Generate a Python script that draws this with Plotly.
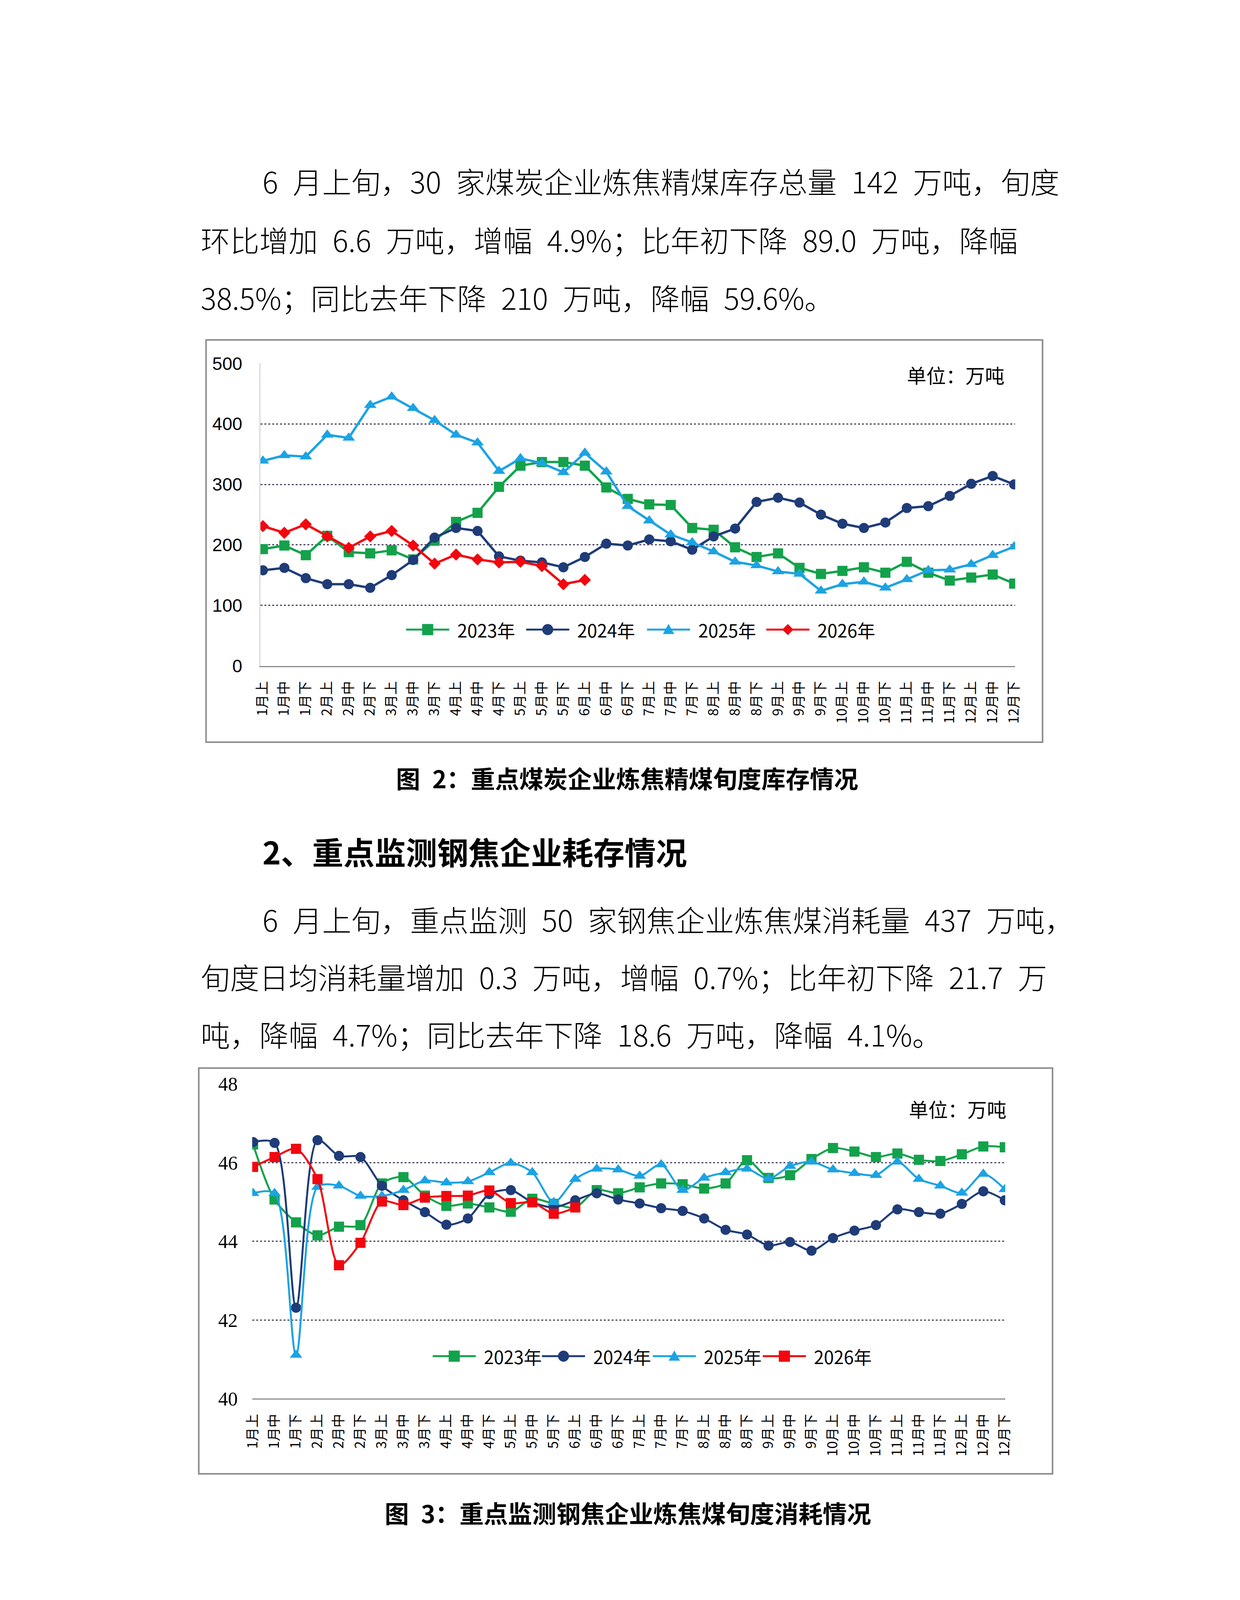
import plotly.graph_objects as go

# page size in px (the reference is a scanned report page)
W, H = 3175, 4490

# x categories: 36 ten-day periods (上/中/下旬 of each month)
periods = [f"{m}月{p}" for m in range(1, 13) for p in ("上", "中", "下")]

# chart 2 of the report: coking coal stock at key coal companies (万吨)
stock_2023 = [193, 199, 183, 215, 188, 186, 191, 176, 207, 238, 253, 296,
              331, 337, 337, 331, 295, 276, 267, 266, 228, 225, 196, 180,
              186, 162, 152, 157, 163, 154, 172, 154, 141, 146, 151, 136]
stock_2024 = [158, 162, 145, 135, 135, 129, 150, 175, 212, 228, 223, 181,
              174, 171, 163, 180, 202, 199, 209, 206, 192, 214, 227, 271,
              278, 270, 250, 235, 228, 237, 261, 264, 281, 301, 314, 300]
stock_2025 = [339, 348, 346, 382, 377, 431, 445, 426, 406, 382, 369, 322,
              343, 335, 320, 352, 321, 264, 240, 217, 204, 189, 172, 166,
              156, 152, 124, 135, 139, 129, 143, 158, 159, 168, 183, 197]
stock_2026 = [231, 220, 234, 214, 195, 214, 223, 199, 169, 184, 176, 171,
              172, 165, 135, 142]

# chart 3 of the report: coking coal consumption at key steel/coke plants (万吨)
cons_2023 = [46.46, 45.06, 44.48, 44.15, 44.37, 44.41, 45.47, 45.63, 45.16, 44.90, 44.96, 44.86,
             44.75, 45.08, 44.95, 44.86, 45.30, 45.22, 45.37, 45.47, 45.45, 45.34, 45.47, 46.06,
             45.61, 45.68, 46.09, 46.37, 46.28, 46.14, 46.23, 46.07, 46.04, 46.21, 46.41, 46.39]
cons_2024 = [46.52, 46.50, 42.31, 46.57, 46.17, 46.14, 45.41, 45.04, 44.74, 44.42, 44.58, 45.20,
             45.30, 44.99, 44.86, 45.04, 45.22, 45.06, 44.96, 44.84, 44.77, 44.58, 44.29, 44.17,
             43.89, 43.98, 43.76, 44.08, 44.27, 44.41, 44.81, 44.74, 44.70, 44.95, 45.27, 45.04]
cons_2025 = [45.22, 45.22, 41.11, 45.38, 45.41, 45.15, 45.15, 45.30, 45.54, 45.49, 45.52, 45.75,
             45.99, 45.75, 44.99, 45.58, 45.84, 45.82, 45.66, 45.95, 45.30, 45.61, 45.75, 45.84,
             45.59, 45.91, 46.02, 45.82, 45.73, 45.68, 46.02, 45.58, 45.41, 45.23, 45.71, 45.32]
cons_2026 = [45.89, 46.14, 46.35, 45.58, 43.39, 43.96, 45.01, 44.92, 45.11, 45.15, 45.16, 45.29,
             44.97, 44.99, 44.70, 44.86]

years = ["2023年", "2024年", "2025年", "2026年"]
colors = ["#13A24B", "#1F3C78", "#1CA3E3", "#F2070F"]

para1 = [
    "6\u2002月上旬，30\u2002家煤炭企业炼焦精煤库存总量\u2002142\u2002万吨，旬度",
    "环比增加\u20026.6\u2002万吨，增幅\u20024.9%；比年初下降\u200289.0\u2002万吨，降幅",
    "38.5%；同比去年下降\u2002210\u2002万吨，降幅\u200259.6%。",
]
para2 = [
    "6\u2002月上旬，重点监测\u200250\u2002家钢焦企业炼焦煤消耗量\u2002437\u2002万吨，",
    "旬度日均消耗量增加\u20020.3\u2002万吨，增幅\u20020.7%；比年初下降\u200221.7\u2002万",
    "吨，降幅\u20024.7%；同比去年下降\u200218.6\u2002万吨，降幅\u20024.1%。",
]
caption1 = "图\u20022：重点煤炭企业炼焦精煤旬度库存情况"
heading2 = "2、重点监测钢焦企业耗存情况"
caption2 = "图\u20023：重点监测钢焦企业炼焦煤旬度消耗情况"
unit = "单位：万吨"

CJK = "Noto Sans CJK SC"


def fx(px):
    return px / W


def fy(py):
    return 1 - py / H


fig = go.Figure()

# chart 1: straight lines
for name, vals, col, sym, size in zip(
        years, [stock_2023, stock_2024, stock_2025, stock_2026], colors,
        ["square", "circle", "triangle-up", "diamond"], [26, 26, 28, 24]):
    fig.add_trace(go.Scatter(
        x=list(range(len(vals))), y=vals, name=name, mode="lines+markers",
        line=dict(color=col, width=6), marker=dict(symbol=sym, size=size, color=col),
        xaxis="x", yaxis="y", showlegend=False))

# chart 2: smoothed lines
for name, vals, col, sym, size in zip(
        years, [cons_2023, cons_2024, cons_2025, cons_2026], colors,
        ["square", "circle", "triangle-up", "square"], [26, 26, 28, 26]):
    fig.add_trace(go.Scatter(
        x=list(range(len(vals))), y=vals, name=name, mode="lines+markers",
        line=dict(color=col, width=5, shape="spline", smoothing=0.8),
        marker=dict(symbol=sym, size=size, color=col),
        xaxis="x2", yaxis="y2", showlegend=False))

xcommon = dict(
    tickvals=list(range(36)), ticktext=periods, tickangle=-90,
    tickfont=dict(family=CJK, size=35, color="#000000"), ticks="",
    showgrid=False, zeroline=False, showline=True, linecolor="#8C8C8C",
    linewidth=3, ticklabelstandoff=22, fixedrange=True)
ycommon = dict(
    showgrid=True, gridcolor="#4A4560", gridwidth=3, griddash="5px,5px",
    zeroline=False, ticks="", fixedrange=True)

fig.update_layout(
    width=W, height=H, margin=dict(l=0, r=0, t=0, b=0),
    paper_bgcolor="white", plot_bgcolor="white", showlegend=False,
    xaxis=dict(domain=[fx(641), fx(2603)], range=[-0.12, 35.05], anchor="y", **xcommon),
    yaxis=dict(domain=[fy(1690), fy(906)], range=[0, 500], dtick=100, anchor="x",
               showline=True, linecolor="#D9D9D9", linewidth=3, ticklabelstandoff=34,
               tickfont=dict(family="Liberation Sans", size=46, color="#000000"), **ycommon),
    xaxis2=dict(domain=[fx(620), fx(2577)], range=[-0.04, 35.02], anchor="y2", **xcommon),
    yaxis2=dict(domain=[fy(3590), fy(2774)], range=[40, 48], dtick=2, anchor="x2",
                showline=False, ticklabelstandoff=36,
                tickfont=dict(family="Liberation Serif", size=50, color="#000000"), **ycommon),
)

# chart frames
for x0, x1, y0, y1 in [(500, 2674, 845, 1888), (481, 2700, 2733, 3785)]:
    fig.add_shape(type="rect", xref="paper", yref="paper",
                  x0=fx(x0), x1=fx(x1), y0=fy(y1), y1=fy(y0),
                  line=dict(color="#8C8C8C", width=4))


def text(s, x, y, size, anchor="left", bold=False, weight=None, family=CJK):
    fig.add_annotation(
        text=f"<b>{s}</b>" if bold else s, xref="paper", yref="paper",
        x=fx(x), y=fy(y), xanchor=anchor, yanchor="middle", showarrow=False,
        font=dict(family=family, size=size, color="#000000", weight=weight))


def legend_key(x0, y, color, symbol, size, label):
    # Excel-style legend entry: long line with the marker in the middle, then the label
    x1 = x0 + 112
    xc = (x0 + x1) / 2
    r = size / 2
    fig.add_shape(type="line", xref="paper", yref="paper",
                  x0=fx(x0), x1=fx(x1), y0=fy(y), y1=fy(y),
                  line=dict(color=color, width=5))
    style = dict(xref="paper", yref="paper", fillcolor=color, line=dict(color=color, width=1))
    if symbol == "square":
        fig.add_shape(type="rect", x0=fx(xc - r), x1=fx(xc + r),
                      y0=fy(y + r), y1=fy(y - r), **style)
    elif symbol == "circle":
        fig.add_shape(type="circle", x0=fx(xc - r), x1=fx(xc + r),
                      y0=fy(y + r), y1=fy(y - r), **style)
    elif symbol == "triangle-up":
        path = (f"M{fx(xc - r)},{fy(y + r * 0.8)} L{fx(xc + r)},{fy(y + r * 0.8)} "
                f"L{fx(xc)},{fy(y - r)} Z")
        fig.add_shape(type="path", path=path, **style)
    else:
        path = (f"M{fx(xc - r)},{fy(y)} L{fx(xc)},{fy(y - r)} "
                f"L{fx(xc + r)},{fy(y)} L{fx(xc)},{fy(y + r)} Z")
        fig.add_shape(type="path", path=path, **style)
    text(label, x1 + 19, y, 46)


for x0, col, sym, lab in zip([1020, 1332, 1646, 1956], colors,
                             ["square", "circle", "triangle-up", "diamond"], years):
    legend_key(x0, 1596, col, sym, 28, lab)
for x0, col, sym, lab in zip([1089, 1373, 1661, 1947], colors,
                             ["square", "circle", "triangle-up", "square"], years):
    legend_key(x0, 3480, col, sym, 28, lab)

body_x = [645, 484, 484]
for line, x, y in zip(para1, body_x, [432, 584, 734]):
    text(line, x, y, 75, weight=300)
for line, x, y in zip(para2, body_x, [2346, 2495, 2644]):
    text(line, x, y, 75, weight=300)

text(caption1, 1595, 1980, 62, anchor="center", bold=True)
text(heading2, 645, 2170, 80, bold=True)
text(caption2, 1597, 3885, 62, anchor="center", bold=True)
text(unit, 2577, 935, 50, anchor="right")
text(unit, 2582, 2838, 50, anchor="right")

fig.write_html("out.html")
